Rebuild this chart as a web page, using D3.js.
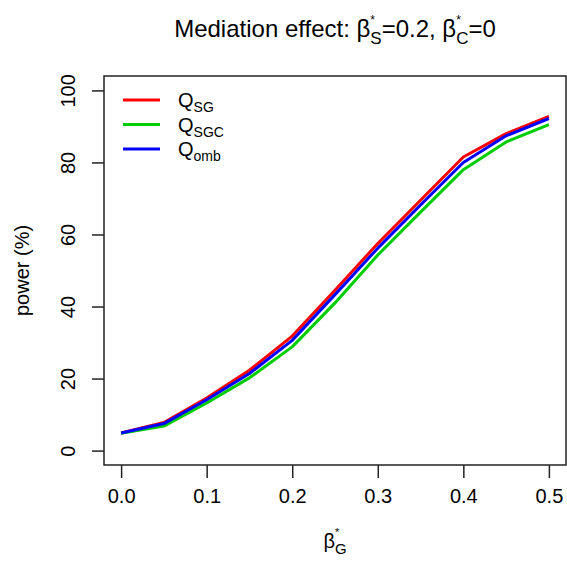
<!DOCTYPE html>
<html>
<head>
<meta charset="utf-8">
<script src="https://cdn.jsdelivr.net/npm/d3@7"></script>
<style>
  html, body { margin: 0; padding: 0; background: #fff; }
  svg { display: block; font-family: "Liberation Sans", Arial, sans-serif; }
</style>
</head>
<body>
<svg id="chart" width="567" height="564"></svg>
<script>
// Effect sizes of the gene path (x axis)
const betaG = [0, 0.05, 0.1, 0.15, 0.2, 0.25, 0.3, 0.35, 0.4, 0.45, 0.5];
// Power (%) of each test statistic
const powerQSG  = [4.9, 7.8, 14.6, 22.3, 31.8, 44.5, 57.5, 69.5, 81.5, 88.0, 92.8];
const powerQSGC = [4.8, 6.8, 13.2, 20.2, 28.8, 41.0, 54.3, 66.2, 78.0, 85.7, 90.5];
const powerQomb = [4.9, 7.5, 14.1, 21.4, 30.6, 43.3, 56.2, 68.2, 80.0, 87.4, 92.2];
const xTicks = [0, 0.1, 0.2, 0.3, 0.4, 0.5];
const yTicks = [0, 20, 40, 60, 80, 100];

const series = [
  { name: "Q", sub: "SG",  color: "#ff0000", values: powerQSG },
  { name: "Q", sub: "SGC", color: "#00cd00", values: powerQSGC },
  { name: "Q", sub: "omb", color: "#0000ff", values: powerQomb }
];

const svg = d3.select("#chart");
const box = { left: 104, right: 566, top: 76, bottom: 465 };

// R-style 4% padding around the data range
const x = d3.scaleLinear().domain([-0.02, 0.52]).range([box.left, box.right]);
const y = d3.scaleLinear().domain([-4, 104]).range([box.bottom, box.top]);

const FS = 20;

// Rich text: sequence of groups; items in one group share the same x (stacked sub/superscripts)
function richText(parent, cx, cy, groups, anchor, rotate) {
  const g = parent.append("g");
  let xpos = 0;
  groups.forEach(grp => {
    let adv = 0;
    grp.forEach(it => {
      const t = g.append("text")
        .attr("x", xpos).attr("y", it.dy || 0)
        .attr("font-size", it.size)
        .attr("fill", "#000")
        .text(it.text);
      adv = Math.max(adv, t.node().getComputedTextLength());
    });
    xpos += adv;
  });
  const shift = anchor === "middle" ? -xpos / 2 : 0;
  g.attr("transform", `translate(${cx},${cy})` + (rotate ? ` rotate(${rotate})` : "") + ` translate(${shift},0)`);
  return g;
}

// Title
richText(svg, (box.left + box.right) / 2, 37, [
  [{ text: "Mediation effect: \u03b2", size: 24 }],
  [{ text: "*", size: 12, dy: -13 }, { text: "S", size: 17, dy: 7 }],
  [{ text: "=0.2, \u03b2", size: 24 }],
  [{ text: "*", size: 12, dy: -13 }, { text: "C", size: 17, dy: 7 }],
  [{ text: "=0", size: 24 }]
], "middle");

// Plot frame
svg.append("rect")
  .attr("x", box.left).attr("y", box.top)
  .attr("width", box.right - box.left).attr("height", box.bottom - box.top)
  .attr("fill", "none").attr("stroke", "#222").attr("stroke-width", 1.5);

// Axes
const xAxis = d3.axisBottom(x).tickValues(xTicks).tickFormat(d3.format(".1f")).tickSize(13).tickPadding(11);
const gx = svg.append("g").attr("transform", `translate(0,${box.bottom})`).call(xAxis);
const yAxis = d3.axisLeft(y).tickValues(yTicks).tickSize(12).tickPadding(0);
const gy = svg.append("g").attr("transform", `translate(${box.left},0)`).call(yAxis);

[gx, gy].forEach(g => {
  g.select(".domain").remove();
  g.selectAll(".tick line").attr("stroke", "#222").attr("stroke-width", 1.5);
  g.selectAll(".tick text").attr("font-size", FS).attr("fill", "#000")
    .attr("font-family", "Liberation Sans, Arial, sans-serif");
});
// Rotated y tick labels (parallel to axis)
gy.selectAll(".tick text")
  .attr("x", null).attr("dy", null)
  .attr("text-anchor", "middle")
  .attr("transform", "translate(-36,0) rotate(-90)")
  .attr("y", 7);

// Axis titles
svg.append("text")
  .attr("transform", `translate(29,${(box.top + box.bottom) / 2}) rotate(-90)`)
  .attr("text-anchor", "middle").attr("font-size", FS).attr("fill", "#000")
  .text("power (%)");

richText(svg, (box.left + box.right) / 2, 548, [
  [{ text: "\u03b2", size: FS }],
  [{ text: "*", size: 11, dy: -12 }, { text: "G", size: 15, dy: 6 }]
], "middle");

// Power curves
const line = d3.line().x((d, i) => x(betaG[i])).y(d => y(d));
const plot = svg.append("g");
series.forEach(s => {
  plot.append("path")
    .datum(s.values)
    .attr("d", line)
    .attr("fill", "none")
    .attr("stroke", s.color)
    .attr("stroke-width", 3)
    .attr("stroke-linejoin", "round");
});

// Legend
const legend = svg.append("g");
series.forEach((s, i) => {
  const ly = 100 + i * 24.5;
  legend.append("line")
    .attr("x1", 123).attr("x2", 160).attr("y1", ly).attr("y2", ly)
    .attr("stroke", s.color).attr("stroke-width", 3);
  richText(legend, 178, ly + 7, [
    [{ text: s.name, size: FS }],
    [{ text: s.sub, size: 14, dy: 5 }]
  ], "start");
});
</script>
</body>
</html>
